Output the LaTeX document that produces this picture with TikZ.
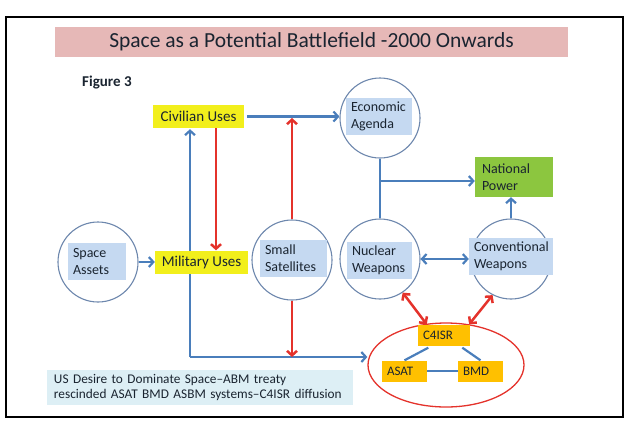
\documentclass[tikz,border=0pt]{standalone}
\usepackage{fontspec}
\setmainfont{Carlito}
\usetikzlibrary{arrows.meta,shapes.geometric,calc}
\pgfdeclarelayer{bg}
\pgfsetlayers{bg,main}
\definecolor{lnblue}{HTML}{4A7EBB}
\definecolor{cirline}{HTML}{6D87AD}
\definecolor{inbox}{HTML}{C5D9F1}
\definecolor{yel}{HTML}{F2EF1C}
\definecolor{grn}{HTML}{8CC63F}
\definecolor{org}{HTML}{FFC000}
\definecolor{rd}{HTML}{E4322B}
\definecolor{pinkt}{HTML}{E6B8B7}
\definecolor{cyanbox}{HTML}{DDEFF5}
\definecolor{txt}{HTML}{1A2430}
\begin{document}
\begin{tikzpicture}[x=1bp,y=-1bp,
  nf/.style={font=\fontsize{14bp}{17bp}\selectfont,text=txt},
  circ/.style={circle,draw=cirline,line width=1.1bp,minimum size=80bp,inner sep=0pt,fill=white},
  inb/.style={nf,fill=inbox,align=left,inner ysep=0pt,inner xsep=5bp,minimum height=37bp,text width=#1},
  ybox/.style={nf,font=\fontsize{15bp}{17bp}\selectfont,fill=yel,inner sep=0pt,minimum height=23bp,minimum width=#1},
  obox/.style={nf,font=\fontsize{13bp}{15bp}\selectfont,fill=org,inner ysep=0pt,inner xsep=5bp,align=left,minimum height=21bp,text width=#1},
  bline/.style={draw=lnblue,line width=2.2bp},
  barr/.style={bline,-{Straight Barb[length=4.5bp,width=10bp]}},
  bdarr/.style={bline,{Straight Barb[length=4.5bp,width=10bp]}-{Straight Barb[length=4.5bp,width=10bp]}},
  rarr/.style={draw=rd,line width=2.5bp,-{Straight Barb[length=4.5bp,width=10bp]}},
  rdarr/.style={draw=rd,line width=2.5bp,{Straight Barb[length=4.5bp,width=10bp]}-{Straight Barb[length=4.5bp,width=10bp]}}
]
\useasboundingbox (0,0) rectangle (641,430);
\draw[black,line width=1.2bp] (6,17) rectangle (623,417);
% title
\node[fill=pinkt,minimum width=513bp,minimum height=30bp,inner sep=0pt,
      font=\fontsize{21.5bp}{24bp}\selectfont,text=txt] (title) at (311.5,41.5)
      {Space as a Potential Battlefield -2000 Onwards};
\node[anchor=west,font=\bfseries\fontsize{15bp}{17bp}\selectfont,text=txt,inner sep=0pt] (fig) at (82,83) {Figure 3};
% circles
\node[circ] (eco) at (380,118) {};
\node[circ] (sa) at (98,262) {};
\node[circ] (sat) at (292,260) {};
\node[circ] (nuc) at (380,259) {};
\node[circ] (conv) at (511,259) {};
% inner boxes
\node[inb=56bp] (ecot) at (379,116.5) {Economic\\Agenda};
\node[inb=48bp] (sat_t) at (97,261.5) {Space\\Assets};
\node[inb=57bp] (smt) at (293.5,258.5) {Small\\Satellites};
\node[inb=55bp] (nuct) at (379.5,260) {Nuclear\\Weapons};
\node[inb=74bp] (convt) at (511,256) {Conventional\\Weapons};
% boxes
\node[ybox=91bp] (civ) at (198.5,116.5) {Civilian Uses};
\node[ybox=93bp] (mil) at (201.5,262) {Military Uses};
\node[nf,fill=grn,align=left,inner ysep=0pt,inner xsep=7bp,text width=64bp,minimum height=40bp] (np) at (514,177) {National\\Power};
\node[ellipse,draw=rd,line width=1.3bp,minimum width=156bp,minimum height=84bp,inner sep=0pt] (ell) at (446,365) {};
\node[obox=42bp] (c4) at (444,335) {C4ISR};
\node[obox=35bp] (asat) at (404.5,371) {ASAT};
\node[obox=35bp] (bmd) at (480.5,371) {BMD};
\node[fill=cyanbox,align=left,inner ysep=0pt,inner xsep=7bp,text width=292bp,minimum height=35bp,
      font=\fontsize{13.3bp}{15.5bp}\selectfont,text=txt] (note) at (200,387.5)
      {US Desire to Dominate Space--ABM treaty\\rescinded ASAT BMD ASBM systems--C4ISR diffusion};
% connectors
\coordinate (rx) at (216,0);
\coordinate (cor) at (190,357);
\coordinate (br) at (380,181);
\draw[barr] ($(civ.east)+(3,0)$) -- (civ.east -| eco.west);
\draw[rarr] (civ.south -| rx) -- (mil.north -| rx);
\begin{pgfonlayer}{bg}
\draw[barr] (cor) -- ($(cor |- civ.south)+(0,1)$);
\end{pgfonlayer}
\draw[barr] (cor) -- (cor -| ell.west);
\draw[rarr] (sat.north) -- ($(sat.north |- civ.east)+(0,1.5)$);
\draw[rarr] (sat.south) -- (sat.south |- cor);
\draw[barr] (sa.east) -- (mil.west);
\draw[bline] (eco.south) -- (nuc.north);
\draw[barr] (br) -- (br -| np.west);
\draw[barr] (conv.north) -- (conv.north |- np.south);
\draw[bdarr] (nuc.east) -- (nuc.east -| convt.west);
\draw[rdarr] (nuc.-56) -- ($(c4.north west)!0.17!(c4.north east)$);
\draw[rdarr] (conv.-117) -- ($(c4.north west)!0.98!(c4.north east)$);
\draw[bline] ($(c4.south west)!0.2!(c4.south east)+(0,2)$) -- (asat.north);
\draw[bline] ($(c4.south west)!0.85!(c4.south east)+(0,2)$) -- (bmd.north);
\draw[bline] (asat.east) -- (bmd.west);
\end{tikzpicture}
\end{document}
